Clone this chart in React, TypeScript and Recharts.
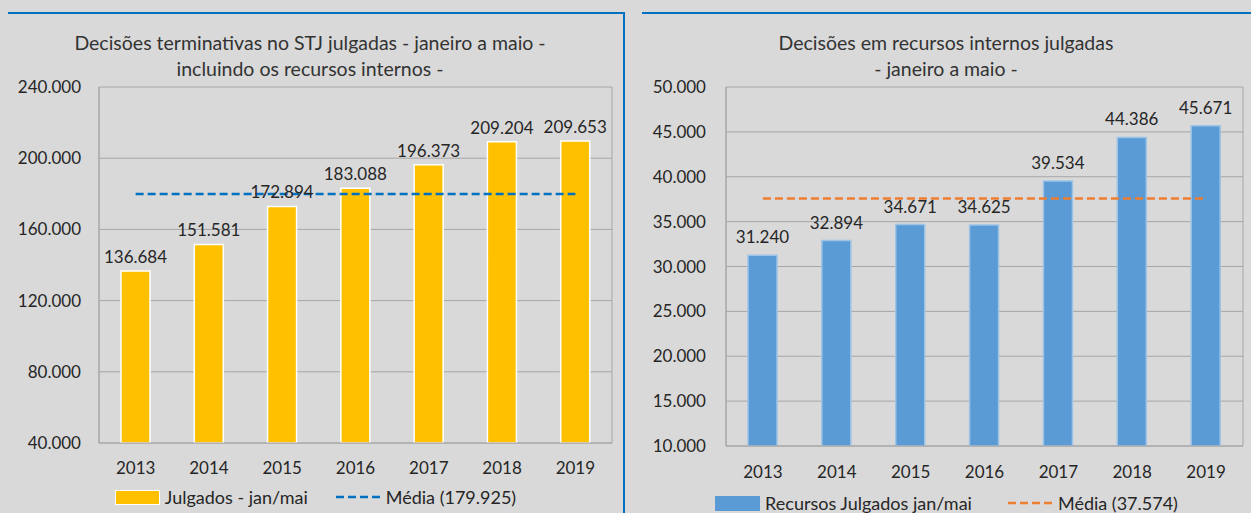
import React from 'react';
import { ComposedChart, Bar, Line, XAxis, YAxis, CartesianGrid, LabelList } from 'recharts';

const years = ['2013', '2014', '2015', '2016', '2017', '2018', '2019'];
const julgados = [136684, 151581, 172894, 183088, 196373, 209204, 209653];
const mediaJulgados = 179925;
const recursos = [31240, 32894, 34671, 34625, 39534, 44386, 45671];
const mediaRecursos = 37574;
const leftTicks = [40000, 80000, 120000, 160000, 200000, 240000];
const rightTicks = [10000, 15000, 20000, 25000, 30000, 35000, 40000, 45000, 50000];

const leftTitle = ['Decisões terminativas no STJ julgadas - janeiro a maio -', 'incluindo os recursos internos -'];
const rightTitle = ['Decisões em recursos internos julgadas', '- janeiro a maio -'];
const leftLegend = ['Julgados - jan/mai', 'Média (179.925)'];
const rightLegend = ['Recursos Julgados jan/mai', 'Média (37.574)'];

const fmt = (v: number) => String(v).replace(/\B(?=(\d{3})+(?!\d))/g, '.');

const FONT = 'Lato, "Open Sans", sans-serif';
const TXT = '#262626';
const GRID = '#a6a6a6';
const BG = '#d9d9d9';

const leftData = years.map((y, i) => ({ year: y, value: julgados[i], media: mediaJulgados }));
const rightData = years.map((y, i) => ({ year: y, value: recursos[i], media: mediaRecursos }));

const edgeGen = (props: any) => {
  const o = props.offset;
  return [o.left, o.left + o.width];
};

type PanelProps = {
  data: any[];
  width: number;
  margin: any;
  yWidth: number;
  yTickMargin: number;
  xTickMargin: number;
  ticks: number[];
  barColor: string;
  barStroke: string;
  lineColor: string;
  labelOffset: number;
};

function Panel(p: PanelProps) {
  const tickStyle = { fill: TXT, fontSize: 17, fontFamily: FONT };
  return (
    <ComposedChart width={p.width} height={513} data={p.data} margin={p.margin} style={{ background: 'transparent' }}>
      <CartesianGrid stroke={GRID} strokeWidth={1} verticalCoordinatesGenerator={edgeGen} />
      <XAxis
        dataKey="year"
        height={30}
        tickLine={false}
        tickSize={0}
        tickMargin={p.xTickMargin}
        axisLine={{ stroke: GRID }}
        tick={tickStyle}
        interval={0}
      />
      <YAxis
        width={p.yWidth}
        domain={[p.ticks[0], p.ticks[p.ticks.length - 1]]}
        ticks={p.ticks}
        tickFormatter={fmt}
        tickLine={false}
        tickSize={0}
        tickMargin={p.yTickMargin}
        axisLine={{ stroke: GRID }}
        tick={tickStyle}
        allowDataOverflow
        interval={0}
      />
      <Bar dataKey="value" barSize={29} fill={p.barColor} stroke={p.barStroke} strokeWidth={1.5} isAnimationActive={false}>
        <LabelList dataKey="value" position="top" offset={p.labelOffset} formatter={(v: any) => fmt(v)} style={{ fill: TXT, fontSize: 17, fontFamily: FONT }} />
      </Bar>
      <Line
        dataKey="media"
        type="linear"
        stroke={p.lineColor}
        strokeWidth={2.5}
        strokeDasharray="8 4"
        dot={false}
        activeDot={false}
        isAnimationActive={false}
      />
    </ComposedChart>
  );
}

function Legend2({ names, barColor, barBorder, lineColor, left, width, top, gap }: any) {
  return (
    <div style={{ position: 'absolute', left, width, top, display: 'flex', justifyContent: 'center', alignItems: 'center', gap, fontFamily: FONT, fontSize: 18, lineHeight: '20px', color: TXT }}>
      <div style={{ display: 'flex', alignItems: 'center', gap: 5 }}>
        <div style={{ width: 43, height: 13, background: barColor, border: `1.5px solid ${barBorder}` }} />
        <span>{names[0]}</span>
      </div>
      <div style={{ display: 'flex', alignItems: 'center', gap: 5 }}>
        <svg width={45} height={6}>
          <line x1={0} y1={3} x2={45} y2={3} stroke={lineColor} strokeWidth={2.5} strokeDasharray="8 4" />
        </svg>
        <span>{names[1]}</span>
      </div>
    </div>
  );
}

function Title({ lines, center }: any) {
  return (
    <div style={{ position: 'absolute', left: center - 300, width: 600, top: 30, textAlign: 'center', fontFamily: FONT, fontSize: 19.5, lineHeight: '26px', color: '#333' }}>
      {lines.map((l: string, i: number) => (
        <div key={i}>{l}</div>
      ))}
    </div>
  );
}

export default function App() {
  return (
    <div style={{ position: 'absolute', left: 0, top: 0, width: 1251, height: 513, background: BG, overflow: 'hidden' }}>
      <div style={{ position: 'absolute', left: 8, top: 12, width: 617, height: 2, background: '#0070c0' }} />
      <div style={{ position: 'absolute', left: 623, top: 12, width: 2, height: 501, background: '#0070c0' }} />
      <div style={{ position: 'absolute', left: 642, top: 12, width: 609, height: 2, background: '#0070c0' }} />

      <Title lines={leftTitle} center={310} />
      <Title lines={rightTitle} center={946} />

      <div style={{ position: 'absolute', left: 0, top: 0 }}>
        <Panel
          data={leftData}
          width={615}
          margin={{ top: 87, right: 3, bottom: 40, left: 0 }}
          yWidth={99}
          yTickMargin={18}
          xTickMargin={19}
          ticks={leftTicks}
          barColor="#ffc000"
          barStroke="#ffffff"
          lineColor="#0070c0"
          labelOffset={8}
        />
      </div>
      <div style={{ position: 'absolute', left: 640, top: 0 }}>
        <Panel
          data={rightData}
          width={611}
          margin={{ top: 87, right: 8, bottom: 37, left: 0 }}
          yWidth={86}
          yTickMargin={20}
          xTickMargin={20}
          ticks={rightTicks}
          barColor="#5b9bd5"
          barStroke="#9dc3e6"
          lineColor="#ed7d31"
          labelOffset={12}
        />
      </div>

      <Legend2 names={leftLegend} barColor="#ffc000" barBorder="#ffffff" lineColor="#0070c0" left={8} width={615} top={487} gap={28} />
      <Legend2 names={rightLegend} barColor="#5b9bd5" barBorder="#5b9bd5" lineColor="#ed7d31" left={642} width={609} top={493} gap={36} />
    </div>
  );
}
